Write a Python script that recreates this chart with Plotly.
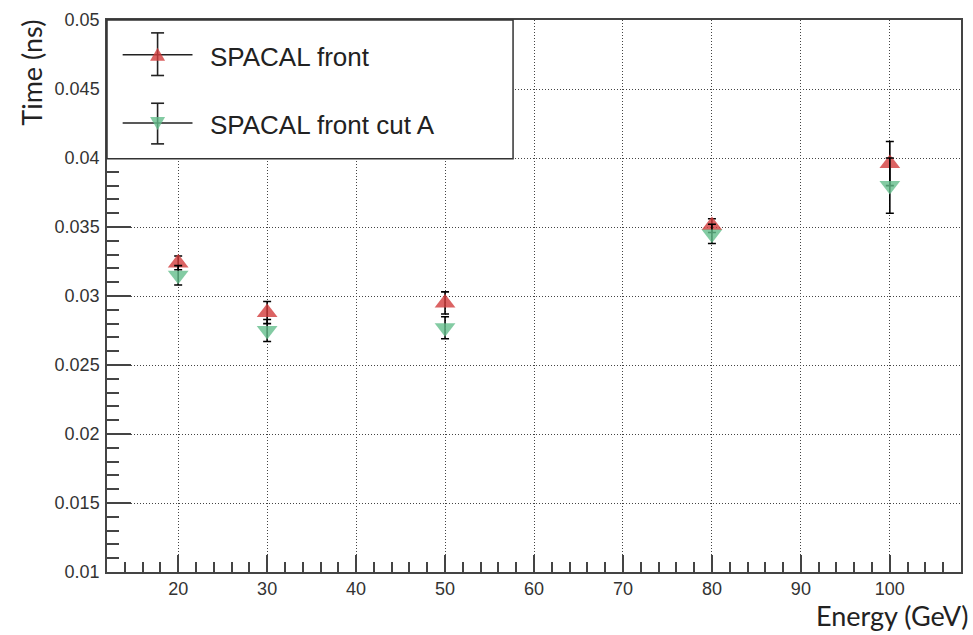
import plotly.graph_objects as go

# Beam energies (GeV)
energy = [20, 30, 50, 80, 100]

# SPACAL front timing resolution (ns) and uncertainties
t_front = [0.0324, 0.0288, 0.0295, 0.0351, 0.0396]
t_front_err = [0.0005, 0.0008, 0.0008, 0.0005, 0.0016]

# SPACAL front with cut A
t_cut = [0.0315, 0.0275, 0.0277, 0.0345, 0.0380]
t_cut_err = [0.0007, 0.0008, 0.0008, 0.0007, 0.0020]

y_tick_vals = [0.01, 0.015, 0.02, 0.025, 0.03, 0.035, 0.04, 0.045, 0.05]
y_tick_text = ["0.01", "0.015", "0.02", "0.025", "0.03", "0.035", "0.04", "0.045", "0.05"]
x_tick_vals = [20, 30, 40, 50, 60, 70, 80, 90, 100]
x_tick_text = ["20", "30", "40", "50", "60", "70", "80", "90", "100"]

series_names = ["SPACAL front", "SPACAL front cut A"]
red = "rgba(210,60,60,0.8)"
green = "rgba(100,190,140,0.8)"

W, H = 973, 635
PL, PR, PT, PB = 107, 963, 15, 572


def px(x):
    return (x - PL) / (PR - PL)


def py(y):
    return (PB - y) / (PB - PT)


fig = go.Figure()
fig.add_trace(go.Scatter(
    x=energy, y=t_front, mode="markers", name=series_names[0],
    marker=dict(symbol="triangle-up", size=18, color=red, line=dict(width=0)),
    error_y=dict(type="data", array=t_front_err, color="black", thickness=1.6, width=4),
    showlegend=False,
))
fig.add_trace(go.Scatter(
    x=energy, y=t_cut, mode="markers", name=series_names[1],
    marker=dict(symbol="triangle-down", size=18, color=green, line=dict(width=0)),
    error_y=dict(type="data", array=t_cut_err, color="black", thickness=1.6, width=4),
    showlegend=False,
))

tick_font = dict(family="Liberation Sans, Arial, sans-serif", size=18, color="#333")
grid_dash = "1px,2px"

fig.update_xaxes(
    range=[12, 108], tickvals=x_tick_vals, ticktext=x_tick_text,
    ticks="inside", ticklen=17, tickwidth=1.5, tickcolor="#444",
    minor=dict(dtick=2, tick0=0, ticks="inside", ticklen=10, tickwidth=1.5, tickcolor="#444", showgrid=False),
    showgrid=True, gridcolor="#444", griddash=grid_dash, gridwidth=1,
    showline=True, linecolor="#444", linewidth=1.5, mirror=True,
    zeroline=False, tickfont=tick_font,
)
fig.update_yaxes(
    range=[0.01, 0.05], tickvals=y_tick_vals, ticktext=y_tick_text,
    ticks="inside", ticklen=24, tickwidth=1.5, tickcolor="#444",
    minor=dict(dtick=0.001, tick0=0, ticks="inside", ticklen=12, tickwidth=1.5, tickcolor="#444", showgrid=False),
    showgrid=True, gridcolor="#444", griddash=grid_dash, gridwidth=1,
    showline=True, linecolor="#444", linewidth=1.5, mirror=True,
    zeroline=False, tickfont=tick_font, ticklabelstandoff=2,
)

# Legend box drawn with shapes (marker + error-bar glyphs)
shapes = [dict(type="rect", xref="paper", yref="paper",
               x0=px(107), x1=px(514), y0=py(155), y1=py(15),
               fillcolor="white", line=dict(color="#333", width=1.5), layer="above")]
rows = [(50, 28, 71, "up", red), (119, 99, 140, "down", green)]
mx = 157.7
for cy, ey0, ey1, kind, col in rows:
    shapes.append(dict(type="line", xref="paper", yref="paper",
                       x0=px(122.7), x1=px(192.7), y0=py(cy), y1=py(cy),
                       line=dict(color="#222", width=1.6), layer="above"))
    shapes.append(dict(type="line", xref="paper", yref="paper",
                       x0=px(mx), x1=px(mx), y0=py(ey0), y1=py(ey1),
                       line=dict(color="#222", width=1.6), layer="above"))
    for ey in (ey0, ey1):
        shapes.append(dict(type="line", xref="paper", yref="paper",
                           x0=px(mx - 6.5), x1=px(mx + 6.5), y0=py(ey), y1=py(ey),
                           line=dict(color="#222", width=1.6), layer="above"))
    if kind == "up":
        pts = [(mx, cy - 7), (mx - 7.5, cy + 6), (mx + 7.5, cy + 6)]
    else:
        pts = [(mx, cy + 7), (mx - 7.5, cy - 6), (mx + 7.5, cy - 6)]
    path = "M {} {} L {} {} L {} {} Z".format(
        *[v for p in pts for v in (px(p[0]), py(p[1]))])
    shapes.append(dict(type="path", xref="paper", yref="paper", path=path,
                       fillcolor=col, line=dict(width=0), layer="above"))

legend_font = dict(family="Liberation Sans, Arial, sans-serif", size=26, color="#222")
title_font = dict(family="Lato, Open Sans, sans-serif", size=27, color="#222")
annotations = [
    dict(x=px(208), y=py(52), xref="paper", yref="paper", text=series_names[0],
         showarrow=False, xanchor="left", yanchor="middle", font=legend_font),
    dict(x=px(208), y=py(121), xref="paper", yref="paper", text=series_names[1],
         showarrow=False, xanchor="left", yanchor="middle", font=legend_font),
    dict(x=px(31), y=py(68), xref="paper", yref="paper", text="Time (ns)",
         textangle=-90, showarrow=False, xanchor="center", yanchor="middle",
         font=title_font),
    dict(x=px(972), y=py(616), xref="paper", yref="paper", text="Energy (GeV)",
         showarrow=False, xanchor="right", yanchor="middle",
         font=title_font),
]

fig.update_layout(
    width=W, height=H, autosize=False,
    margin=dict(l=PL, r=W - PR, t=PT, b=H - PB, pad=0),
    plot_bgcolor="white", paper_bgcolor="white",
    shapes=shapes, annotations=annotations, showlegend=False,
)

fig.write_html("out.html")
